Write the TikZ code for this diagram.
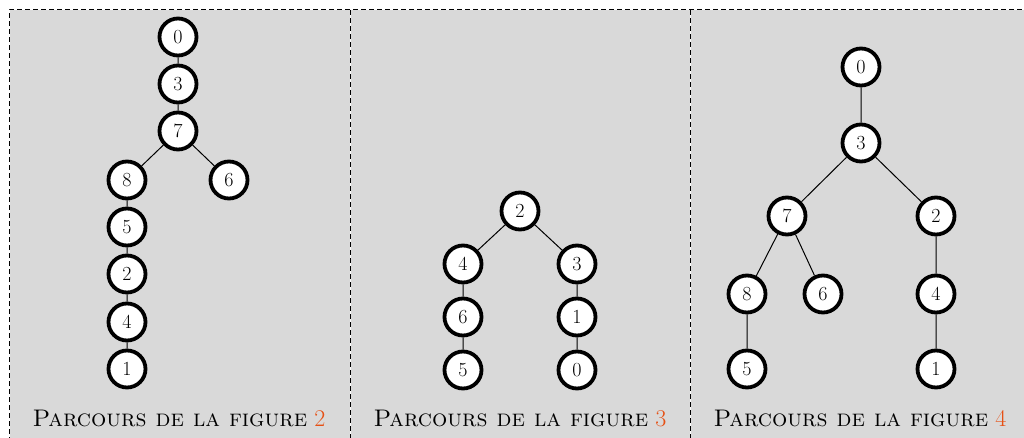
\documentclass[tikz,border=0pt]{standalone}
\usepackage{xcolor}
\definecolor{panelgray}{RGB}{217,217,217}
\definecolor{figorange}{RGB}{230,80,20}
\tikzset{
  vertex/.style={circle,draw=black,fill=white,line width=3.8pt,minimum size=37pt,inner sep=0pt,font=\fontsize{20}{24}\selectfont},
  edge/.style={draw=black,line width=1pt},
  caption/.style={font=\fontsize{24}{28}\selectfont,anchor=base},
  sep/.style={draw=black,dashed,dash pattern=on 5pt off 3pt,line width=1pt}
}
\begin{document}
\begin{tikzpicture}[x=1pt,y=-1pt]
\useasboundingbox (0,0) rectangle (1024,438);
% panels
\fill[panelgray] (9,10) rectangle (1040,450);
\draw[white,line width=1pt] (9,10) -- (1040,10) (9,10) -- (9,450) (350,10) -- (350,450) (690,10) -- (690,450);
\draw[sep] (9,450) -- (9,10) -- (1040,10);
\draw[sep] (350,10) -- (350,450);
\draw[sep] (690,10) -- (690,450);
% panel 1
\node[vertex] (a0) at (178,37) {0};
\node[vertex] (a3) at (178,84) {3};
\node[vertex] (a7) at (178,131) {7};
\node[vertex] (a8) at (127,180) {8};
\node[vertex] (a6) at (229,180) {6};
\node[vertex] (a5) at (127,227) {5};
\node[vertex] (a2) at (127,274) {2};
\node[vertex] (a4) at (127,322) {4};
\node[vertex] (a1) at (127,369) {1};
\draw[edge] (a0) -- (a3) (a3) -- (a7) (a7) -- (a8) (a7) -- (a6) (a8) -- (a5) (a5) -- (a2) (a2) -- (a4) (a4) -- (a1);
\node[caption] (c1) at (179,426) {\textsc{Parcours de la figure} \textcolor{figorange}{2}};
% panel 2
\node[vertex] (b2) at (520,211) {2};
\node[vertex] (b4) at (463,264) {4};
\node[vertex] (b3) at (577,264) {3};
\node[vertex] (b6) at (463,317) {6};
\node[vertex] (b1) at (577,317) {1};
\node[vertex] (b5) at (463,370) {5};
\node[vertex] (b0) at (577,370) {0};
\draw[edge] (b2) -- (b4) (b2) -- (b3) (b4) -- (b6) (b6) -- (b5) (b3) -- (b1) (b1) -- (b0);
\node[caption] (c2) at (520,426) {\textsc{Parcours de la figure} \textcolor{figorange}{3}};
% panel 3
\node[vertex] (d0) at (861,67) {0};
\node[vertex] (d3) at (861,143) {3};
\node[vertex] (d7) at (787,216) {7};
\node[vertex] (d2) at (936,216) {2};
\node[vertex] (d8) at (747,294) {8};
\node[vertex] (d6) at (823,294) {6};
\node[vertex] (d4) at (936,294) {4};
\node[vertex] (d5) at (747,369) {5};
\node[vertex] (d1) at (936,369) {1};
\draw[edge] (d0) -- (d3) (d3) -- (d7) (d3) -- (d2) (d7) -- (d8) (d7) -- (d6) (d8) -- (d5) (d2) -- (d4) (d4) -- (d1);
\node[caption] (c3) at (860,426) {\textsc{Parcours de la figure} \textcolor{figorange}{4}};
\end{tikzpicture}
\end{document}
